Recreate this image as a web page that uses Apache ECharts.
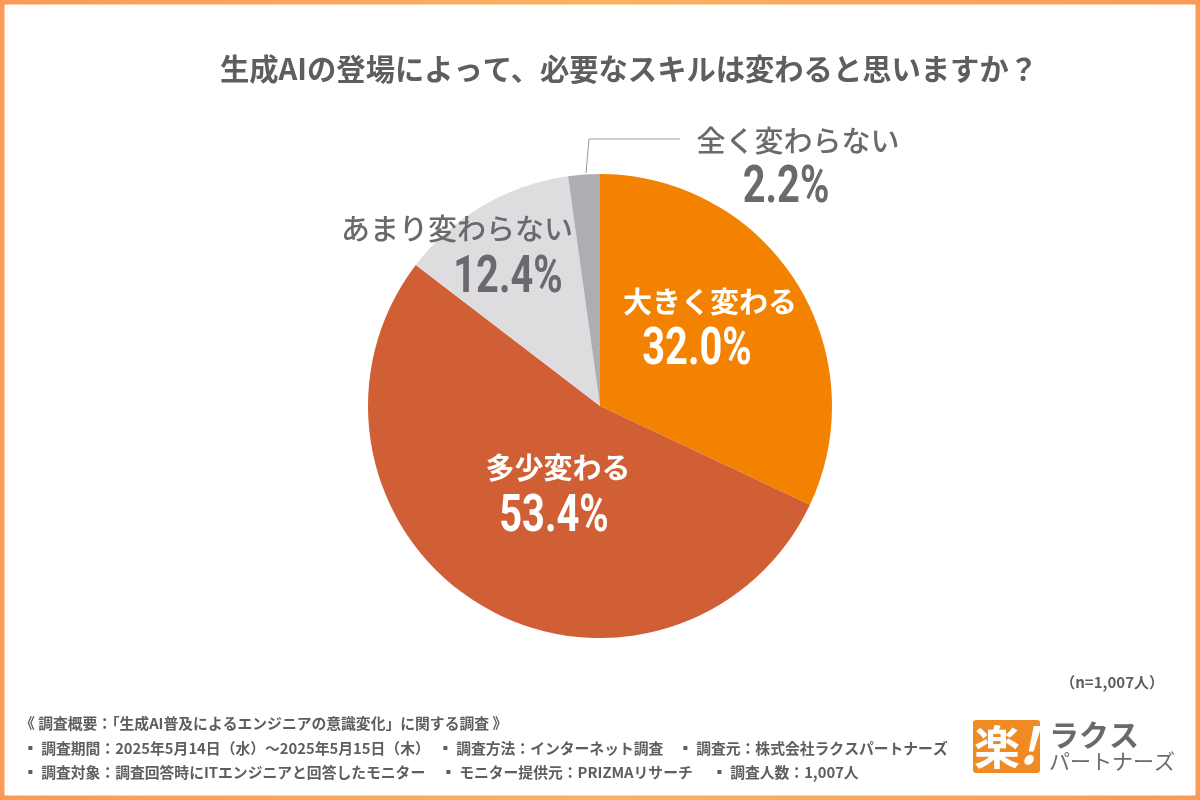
<!DOCTYPE html>
<html>
<head>
<meta charset="utf-8">
<style>
html, body { margin: 0; padding: 0; background: #fff; }
#chart { width: 1200px; height: 800px; }
</style>
<script src="https://cdn.jsdelivr.net/npm/echarts@6/dist/echarts.min.js"></script>
</head>
<body>
<div id="chart"></div>
<script>
const categories = ['大きく変わる', '多少変わる', 'あまり変わらない', '全く変わらない'];
const values = [32.0, 53.4, 12.4, 2.2];
const colors = ['#f28200', '#d05f35', '#dedcdf', '#aeadb1'];
const namePositions = [[710, 302], [558, 468], [457, 229], [798, 141]];
const valuePositions = [[697, 351], [554, 518], [508, 279], [786, 189]];
const textColors = ['#fff', '#fff', '#6b696d', '#6b696d'];

const chartTitle = '生成AIの登場によって、必要なスキルは変わると思いますか？';
const sampleNote = '（n=1,007人）';
const surveyLines = [
    ['《 調査概要：「生成AI普及によるエンジニアの意識変化」に関する調査 》', 20, 723],
    ['▪ 調査期間：2025年5月14日（水）～2025年5月15日（木）', 23, 748],
    ['▪ 調査方法：インターネット調査', 438, 748],
    ['▪ 調査元：株式会社ラクスパートナーズ', 678, 748],
    ['▪ 調査対象：調査回答時にITエンジニアと回答したモニター', 23, 772],
    ['▪ モニター提供元：PRIZMAリサーチ', 441, 772],
    ['▪ 調査人数：1,007人', 712, 772]
];

const jpFont = '"Noto Sans CJK JP", sans-serif';
const numFont = 'Roboto, sans-serif';

let chart = echarts.init(document.getElementById('chart'));

let graphics = [
    {
        type: 'rect',
        shape: { x: 2, y: 2, width: 1196, height: 796 },
        style: {
            fill: 'none',
            lineWidth: 5,
            stroke: new echarts.graphic.LinearGradient(0, 0, 1, 0, [
                { offset: 0, color: '#fb9a57' },
                { offset: 0.5, color: '#fbb25e' },
                { offset: 1, color: '#fb9a57' }
            ])
        }
    },
    {
        type: 'polyline',
        shape: { points: [[586, 173], [589, 139], [680, 139]] },
        style: { fill: 'none', stroke: '#9a999d', lineWidth: 1 }
    },
    {
        type: 'text', x: 1164, y: 682,
        style: { text: sampleNote, fontFamily: jpFont, fontSize: 15, fontWeight: 'bold', fill: '#5f5d60', align: 'right', verticalAlign: 'middle' }
    },
    // logo
    {
        type: 'rect',
        shape: { x: 973, y: 720, width: 67, height: 53, r: 3 },
        style: { fill: '#f08a24' }
    },
    {
        type: 'text', x: 974, y: 747,
        style: { text: '楽', fontFamily: jpFont, fontSize: 46, fontWeight: 'bold', fill: '#fff', align: 'left', verticalAlign: 'middle' }
    },
    {
        type: 'text', x: 1028, y: 745,
        style: { text: '!', fontFamily: jpFont, fontSize: 50, fontWeight: 'bold', fontStyle: 'italic', fill: '#fff', align: 'center', verticalAlign: 'middle' }
    },
    {
        type: 'text', x: 1049, y: 735,
        style: { text: 'ラクス', fontFamily: jpFont, fontSize: 30, fontWeight: 'bold', fill: '#6b696d', align: 'left', verticalAlign: 'middle' }
    },
    {
        type: 'text', x: 1049, y: 761,
        style: { text: 'パートナーズ', fontFamily: jpFont, fontSize: 21, fontWeight: 400, fill: '#6b696d', align: 'left', verticalAlign: 'middle' }
    }
];

surveyLines.forEach(([text, x, y]) => {
    graphics.push({
        type: 'text', x: x, y: y,
        style: { text: text, fontFamily: jpFont, fontSize: 14.8, fontWeight: 'bold', fill: '#5f5d60', align: 'left', verticalAlign: 'middle' }
    });
});

// the percentages are set in a narrow face in the original, so squeeze them
values.forEach((v, i) => {
    graphics.push({
        type: 'text',
        x: valuePositions[i][0],
        y: valuePositions[i][1],
        scaleX: 0.78,
        z: 100,
        style: {
            text: v.toFixed(1) + '%',
            fontFamily: numFont,
            fontSize: 51,
            fontWeight: 'bold',
            fill: textColors[i],
            align: 'center',
            verticalAlign: 'middle'
        }
    });
});

let option = {
    backgroundColor: '#fff',
    animation: false,
    title: {
        text: chartTitle,
        left: 624,
        top: 49,
        textAlign: 'center',
        textStyle: { fontFamily: jpFont, fontSize: 29.3, fontWeight: 'bold', color: '#5f5d60' }
    },
    graphic: graphics,
    series: [
        {
            type: 'pie',
            center: [600, 406],
            radius: [0, 232],
            startAngle: 90,
            clockwise: true,
            label: { show: true, position: 'inside', formatter: '{b}' },
            labelLine: { show: false },
            labelLayout: params => {
                const pos = namePositions[params.dataIndex];
                return { x: pos[0], y: pos[1], align: 'center', verticalAlign: 'middle' };
            },
            data: categories.map((name, i) => ({
                name: name,
                value: values[i],
                itemStyle: { color: colors[i] },
                label: {
                    fontFamily: jpFont,
                    fontSize: 29,
                    fontWeight: i < 2 ? 'bold' : 500,
                    color: textColors[i]
                }
            }))
        }
    ]
};

chart.setOption(option);
</script>
</body>
</html>
